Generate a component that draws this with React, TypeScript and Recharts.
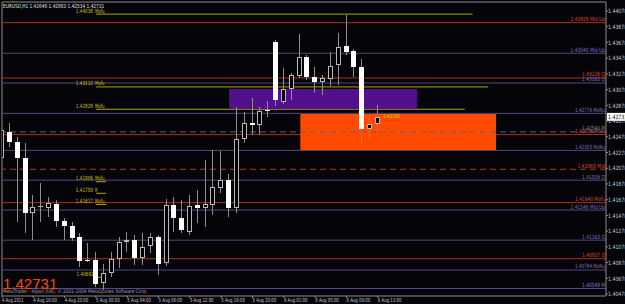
import { ComposedChart, Bar, XAxis, YAxis, ReferenceLine, ReferenceArea } from "recharts";

// EURUSD H1, 4 Aug 2011 12:00 .. 8 Aug 2011 13:00
const opens = [
  1.42208, 1.42539, 1.42412, 1.42208, 1.41508, 1.41585, 1.41572, 1.41623, 1.41407, 1.41343,
  1.41203, 1.40911, 1.40911, 1.40618, 1.40745, 1.40923, 1.4114, 1.41165, 1.40936, 1.41089,
  1.41203, 1.40872, 1.4161, 1.41445, 1.41267, 1.4161, 1.41572, 1.4161, 1.41826, 1.41928,
  1.41572, 1.4245, 1.42653, 1.42628, 1.42819, 1.43684, 1.4292, 1.43086, 1.43251, 1.43493,
  1.43239, 1.43175, 1.43213, 1.43391, 1.43633, 1.43569, 1.43366, 1.42577, 1.42646,
];
const highs = [
  1.42628, 1.42653, 1.42475, 1.42399, 1.41737, 1.4189, 1.41712, 1.41674, 1.41445, 1.41394,
  1.41254, 1.41127, 1.41012, 1.4086, 1.41012, 1.41203, 1.41267, 1.41229, 1.41254, 1.41254,
  1.41229, 1.41687, 1.41712, 1.41674, 1.41737, 1.41801, 1.42183, 1.4231, 1.42297, 1.42005,
  1.42857, 1.42793, 1.42971, 1.42857, 1.42933, 1.43709, 1.43353, 1.43289, 1.43786, 1.43518,
  1.43366, 1.43264, 1.43557, 1.43798, 1.44027, 1.43595, 1.43467, 1.42755, 1.42883,
];
const lows = [
  1.42183, 1.42348, 1.41394, 1.41254, 1.41165, 1.41394, 1.41458, 1.4133, 1.41165, 1.41152,
  1.40822, 1.40885, 1.40567, 1.40529, 1.40694, 1.40809, 1.41012, 1.40847, 1.40847, 1.41,
  1.4072, 1.40834, 1.41267, 1.41254, 1.41229, 1.41381, 1.4133, 1.41483, 1.41763, 1.41458,
  1.41508, 1.42399, 1.42501, 1.42501, 1.4273, 1.4287, 1.42895, 1.42946, 1.43226, 1.432,
  1.43035, 1.4301, 1.43124, 1.43137, 1.43518, 1.43239, 1.42399, 1.42437, 1.42534,
];
const closes = [
  1.42564, 1.42412, 1.42208, 1.41508, 1.41585, 1.41597, 1.41636, 1.41407, 1.41343, 1.4119,
  1.40898, 1.40898, 1.40605, 1.40745, 1.40923, 1.4114, 1.41165, 1.40936, 1.41076, 1.41203,
  1.4086, 1.4161, 1.41445, 1.41292, 1.41597, 1.41572, 1.41623, 1.41839, 1.41928, 1.41572,
  1.4245, 1.42653, 1.42628, 1.42806, 1.42806, 1.42946, 1.43086, 1.43264, 1.43493, 1.43239,
  1.43175, 1.43226, 1.43378, 1.4362, 1.43557, 1.43366, 1.42577, 1.42646, 1.42731,
];

const timeTicks = [0, 4, 8, 12, 16, 20, 24, 28, 32, 36, 40, 44, 48];
const timeLabels = [
  "4 Aug 2011", "4 Aug 16:00", "4 Aug 20:00", "5 Aug 00:00", "5 Aug 04:00", "5 Aug 08:00",
  "5 Aug 12:00", "5 Aug 16:00", "5 Aug 20:00", "8 Aug 01:00", "8 Aug 05:00", "8 Aug 09:00",
  "8 Aug 13:00",
];
const priceTicks = [
  1.40478, 1.40678, 1.40878, 1.41078, 1.41278, 1.41478, 1.41678, 1.41878, 1.42078, 1.42278,
  1.42478, 1.42678, 1.42878, 1.43078, 1.43278, 1.43478, 1.43678, 1.43878, 1.44078,
];

// full width levels
const levelPrices = [1.43929, 1.4354, 1.43226, 1.43162, 1.42776, 1.42506, 1.42305, 1.42065, 1.41926, 1.4164, 1.41546, 1.41163, 1.40927, 1.40784, 1.40549];
const levelNames = ["Mid Up", "Mid Up", "Q", "Q", "MoNu", "Mofu", "MoNu", "Mid", "Q", "Mofu", "Mid Up", "Q", "Q", "MoNu", "M"];
const levelKinds = ["red", "purple", "red", "purple", "purple", "red", "purple", "redDash", "purple", "red", "purple", "purple", "red", "purple", "violet"];

// dashed level drawn over the zones
const grayLevel = 1.4254;
const grayName = "M";

// short "Mofu" lines (bar index where they start / end)
const moPrices = [1.44038, 1.43112, 1.42828, 1.41906, 1.41759, 1.41617, 1.40692];
const moNames = ["Mofu", "Mofu", "Mofu", "Mofu", "M", "Mofu", ""];
const moFrom = [12, 12, 12, 12, 12, 12, 12.1];
const moTo = [60.1, 62.1, 59.1, 13.3, 13.3, 13.3, 12.6];

// zones
const zoneFrom = [29, 38.1];
const zoneTo = [53, 63.1];
const zoneLow = [1.42831, 1.4231];
const zoneHigh = [1.43086, 1.42768];
const zoneColors = ["#52108c", "#ff4a00"];

const lastPrice = 1.42731;
const arrowPrice = 1.42738;

const SMALL = "'Liberation Sans Narrow', 'DejaVu Sans Condensed', 'Liberation Sans', sans-serif";
// squeeze the small texts to the narrow terminal font width
const fit = (s: string, k = 2.3) => ({ textLength: s.length * k, lengthAdjust: "spacingAndGlyphs" as const });

const KIND: Record<string, { stroke: string; text: string; dash?: string }> = {
  red: { stroke: "#a8321c", text: "#d8462a" },
  redDash: { stroke: "#c0381a", text: "#d8462a", dash: "6 4" },
  purple: { stroke: "#54487e", text: "#7a6cc0" },
  violet: { stroke: "#6446a8", text: "#8a70d8" },
  gray: { stroke: "#62627e", text: "#8080a0", dash: "6 4" },
};

const data = opens.map((o, i) => ({
  i,
  open: o,
  high: highs[i],
  low: lows[i],
  close: closes[i],
  range: [lows[i], highs[i]],
}));

function Candle(props: any) {
  const { x, y, width, height, payload } = props;
  if (x == null || !payload) return null;
  const top = Math.min(y, y + height);
  const bottom = Math.max(y, y + height);
  const span = payload.high - payload.low;
  const yOf = (p: number) => (span > 0 ? bottom - ((p - payload.low) / span) * (bottom - top) : top);
  const n = Math.round(x + width / 2 - 0.5);
  const cx = n + 0.5;
  const yo = Math.round(yOf(payload.open));
  const yc = Math.round(yOf(payload.close));
  const bTop = Math.min(yo, yc);
  const bBot = Math.max(yo, yc);
  const bull = payload.close >= payload.open;
  return (
    <g shapeRendering="crispEdges">
      <line x1={cx} x2={cx} y1={yOf(payload.high)} y2={yOf(payload.low)} stroke="#8e8e8e" />
      {bBot - bTop < 2 ? (
        <rect x={n - 2} y={bTop} width={5} height={Math.max(1, bBot - bTop)} fill={bull ? "#b8b8b8" : "#ffffff"} />
      ) : bull ? (
        <rect x={n - 1.5} y={bTop + 0.5} width={4} height={bBot - bTop - 1} fill="#000000" stroke="#b8b8b8" />
      ) : (
        <rect x={n - 2} y={bTop} width={5} height={bBot - bTop} fill="#ffffff" />
      )}
    </g>
  );
}

function TimeTick(props: any) {
  const { x, y, payload } = props;
  const s = timeLabels[timeTicks.indexOf(payload.value)];
  return (
    <text x={x} y={y + 4} fill="#c8c8c8" fontSize={5.6} fontFamily={SMALL} textAnchor="start" {...fit(s, 2.15)}>
      {s}
    </text>
  );
}

function PriceTick(props: any) {
  const { x, y, payload } = props;
  const s = payload.value.toFixed(5);
  return (
    <text x={x} y={y + 2.2} fill="#c8c8c8" fontSize={5.8} fontFamily={SMALL} textAnchor="start" {...fit(s, 2.75)}>
      {s}
    </text>
  );
}

const rightLabel = (text: string, color: string) => (props: any) => {
  const vb = props.viewBox || {};
  return (
    <text x={vb.x + vb.width - 1} y={vb.y - 1.5} textAnchor="end" fill={color} fontSize={5.8} fontFamily={SMALL} {...fit(text)}>
      {text}
    </text>
  );
};

const leftLabel = (price: number, name: string) => (props: any) => {
  const vb = props.viewBox || {};
  const ps = price.toFixed(5);
  return (
    <g fontSize={5.8} fontFamily={SMALL} fill="#c4c400">
      <text x={vb.x - 3} y={vb.y - 1.5} textAnchor="end" {...fit(ps, 2.45)}>{ps}</text>
      {name ? <text x={vb.x - 1} y={vb.y - 1.5} textAnchor="start" {...fit(name, 2.4)}>{name}</text> : null}
    </g>
  );
};

const priceBox = (props: any) => {
  const vb = props.viewBox || {};
  const bx = vb.x + vb.width + 1;
  const s = lastPrice.toFixed(5);
  return (
    <g>
      <rect x={bx} y={vb.y - 4} width={22} height={8} fill="#ffffff" />
      <text x={bx + 1} y={vb.y + 2.2} fill="#000000" fontSize={5.8} fontFamily={SMALL} {...fit(s, 2.75)}>
        {s}
      </text>
    </g>
  );
};

const arrowLabel = (props: any) => {
  const vb = props.viewBox || {};
  const s = arrowPrice.toFixed(5);
  return (
    <text x={vb.x + 2} y={vb.y + 1.5} fill="#e8d000" fontSize={5.6} fontFamily={SMALL} {...fit(s, 2.4)}>
      {s}
    </text>
  );
};

const titleText = "EURUSD,H1  1.42646 1.42883 1.42534 1.42731";
const copyText = "MetaTrader - Alpari (UK), © 2001-2009 MetaQuotes Software Corp.";

export default function App() {
  return (
    <div style={{ position: "absolute", left: 0, top: 0, width: 625, height: 304, overflow: "hidden", background: "#050509" }}>
      <ComposedChart width={625} height={304} data={data} margin={{ top: 2, right: 0, bottom: 0, left: 2 }}>
        <XAxis
          dataKey="i"
          type="number"
          domain={[0, 77.14]}
          allowDataOverflow
          ticks={timeTicks}
          interval={0}
          height={8}
          tickSize={2}
          tickMargin={0}
          tick={TimeTick}
          stroke="#8c8c8c"
        />
        <YAxis
          type="number"
          orientation="right"
          domain={[1.40453, 1.44192]}
          allowDataOverflow
          ticks={priceTicks}
          interval={0}
          width={19}
          tickSize={2}
          tickMargin={0}
          tick={PriceTick}
          stroke="#8c8c8c"
        />
        <ReferenceLine y={1.44192} stroke="#8c8c8c" ifOverflow="visible" zIndex={-40} />
        <ReferenceLine x={0} stroke="#8c8c8c" ifOverflow="visible" zIndex={-40} />
        {levelPrices.map((p, k) => {
          const s = KIND[levelKinds[k]];
          return (
            <ReferenceLine
              key={"lv" + k}
              y={p}
              stroke={s.stroke}
              strokeDasharray={s.dash}
              zIndex={-30}
              label={rightLabel(p.toFixed(5) + "  " + levelNames[k], s.text)}
            />
          );
        })}
        {moPrices.map((p, k) => (
          <ReferenceLine
            key={"mo" + k}
            segment={[{ x: moFrom[k], y: p }, { x: moTo[k], y: p }]}
            stroke="#a8a800"
            zIndex={-30}
            label={leftLabel(p, moNames[k])}
          />
        ))}
        {zoneFrom.map((f, k) => (
          <ReferenceArea
            key={"z" + k}
            x1={f}
            x2={zoneTo[k]}
            y1={zoneLow[k]}
            y2={zoneHigh[k]}
            fill={zoneColors[k]}
            fillOpacity={1}
            stroke="none"
            zIndex={-20}
          />
        ))}
        <ReferenceLine
          y={grayLevel}
          stroke={KIND.gray.stroke}
          strokeDasharray={KIND.gray.dash}
          zIndex={-10}
          label={rightLabel(grayLevel.toFixed(5) + "  " + grayName, KIND.gray.text)}
        />
        <ReferenceLine
          segment={[{ x: 48.4, y: arrowPrice }, { x: 50.6, y: arrowPrice }]}
          stroke="none"
          label={arrowLabel}
        />
        <ReferenceLine y={lastPrice} stroke="none" label={priceBox} />
        <Bar dataKey="range" barSize={5} shape={Candle} isAnimationActive={false} />
      </ComposedChart>
      <svg width={625} height={304} style={{ position: "absolute", left: 0, top: 0, pointerEvents: "none" }}>
        <text x={3} y={8} fill="#e0e0e0" fontSize={5.6} fontFamily={SMALL} {...fit(titleText, 2.41)}>
          {titleText}
        </text>
        <text x={3} y={288.5} fill="#ff4500" fontSize={15} fontFamily="'Liberation Sans', Arial, sans-serif">
          1.42731
        </text>
        <text x={3} y={292.5} fill="#a0a0a0" fontSize={5.2} fontFamily={SMALL} {...fit(copyText, 2.29)}>
          {copyText}
        </text>
      </svg>
    </div>
  );
}
